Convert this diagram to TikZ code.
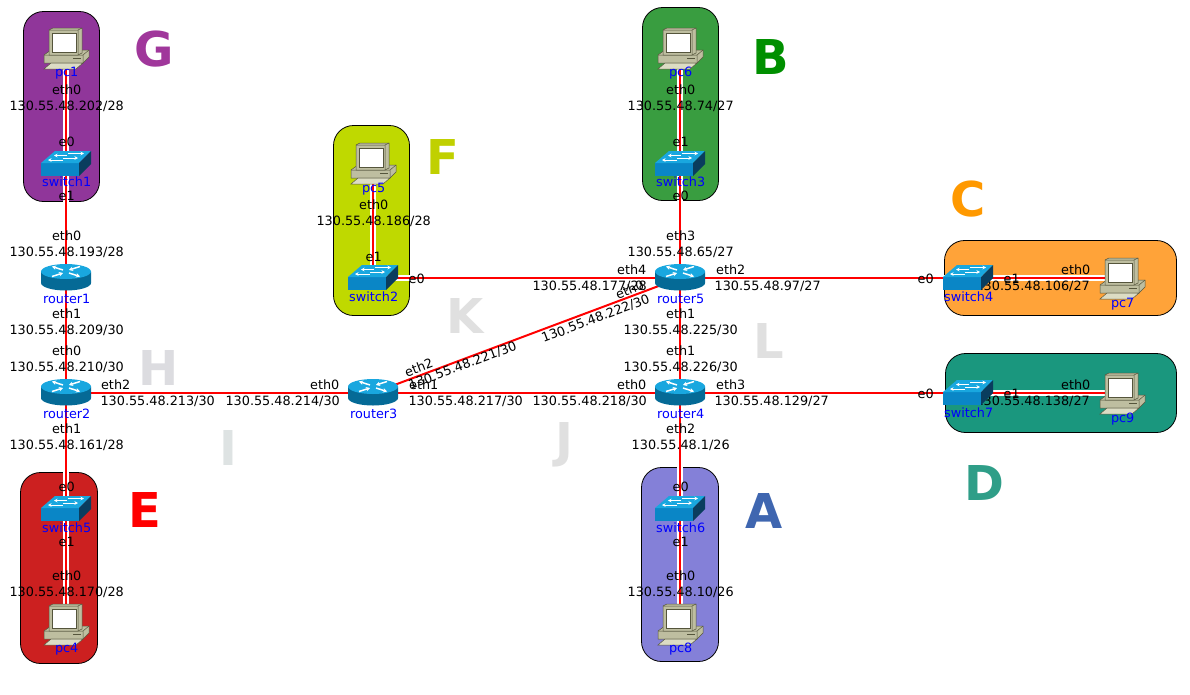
\documentclass[tikz,border=0pt]{standalone}
\usepackage{fontspec}
\usetikzlibrary{arrows.meta}
\setmainfont{DejaVu Sans}
\definecolor{cG}{HTML}{90369A}
\definecolor{cB}{HTML}{399D40}
\definecolor{cF}{HTML}{BFD900}
\definecolor{cC}{HTML}{FFA339}
\definecolor{cD}{HTML}{1A977E}
\definecolor{cE}{HTML}{CC2020}
\definecolor{cA}{HTML}{8480D8}
\definecolor{swtop}{HTML}{19A7DF}
\definecolor{swfront}{HTML}{0A86C6}
\definecolor{swside}{HTML}{0A3D5E}
\definecolor{rtside}{HTML}{056A96}
\definecolor{pcbody}{HTML}{BEBEA0}
\definecolor{pclight}{HTML}{DCDCC4}
\definecolor{pcdark}{HTML}{55553C}
\tikzset{
  x=1pt,y=-1pt,
  region/.style={draw=black,line width=0.8pt,rounded corners=20pt},
  dev/.style={inner sep=0pt,minimum size=1pt,outer sep=0pt},
  lbl/.style={inner sep=0pt,xshift=0.7pt,yshift=-0.7pt,font=\fontsize{12.8}{14}\selectfont,text=black},
  devname/.style={inner sep=0pt,xshift=0.7pt,yshift=-0.7pt,font=\fontsize{12.8}{14}\selectfont,text=blue},
  big/.style={inner sep=0pt,xshift=0.6pt,yshift=1pt,font=\fontsize{48}{50}\selectfont\bfseries},
  casing/.style={white,line width=6pt},
  wire/.style={red,line width=2pt},
  tipped/.style={white,line width=1.5pt,-{Stealth[length=4pt,width=4.5pt]}},
  tippedsw/.style={white,line width=1pt,-{Stealth[length=3.5pt,width=3.5pt]}},
  router/.pic={
    \fill[rtside] (-25,-6.5) -- (-25,5) arc[start angle=180,end angle=0,x radius=25,y radius=7.5] -- (25,-6.5) -- cycle;
    \fill[swtop] (0,-6.5) ellipse[x radius=25,y radius=7.5];
    \draw[tipped] (-3,-8) -- (-14,-11.5);
    \draw[tipped] (3,-5) -- (14,-1.5);
    \draw[tipped] (-14,-1.5) -- (-3,-5);
    \draw[tipped] (14,-11.5) -- (3,-8);
  },
  switchicon/.pic={
    \fill[swfront] (-25,-1) rectangle (13,12);
    \fill[swtop] (-25,-1) -- (-11,-13) -- (25,-13) -- (13,-1) -- cycle;
    \fill[swside] (13,-1) -- (25,-13) -- (25,0) -- (13,12) -- cycle;
    \draw[tippedsw] (1,-8.5) -- (-12,-8.5);
    \draw[tippedsw] (2,-10.5) -- (18,-10.5);
    \draw[tippedsw] (-3,-4) -- (-18,-4);
    \draw[tippedsw] (-3,-6) -- (12,-6);
  },
  pcicon/.pic={
    \fill[pcbody,draw=pcdark,line width=0.5pt] (-22,15) -- (-22,7) -- (-15,2) -- (23,2) -- (23,9) -- (17,15) -- cycle;
    \fill[pclight,draw=pcdark,line width=0.5pt] (-22,21) -- (-15,15) -- (17,15) -- (10,21) -- cycle;
    \draw[pcdark,line width=0.5pt] (-22,7) -- (17,7) -- (17,15) (17,7) -- (23,2);
    \fill[pcdark] (7,9.5) rectangle (15,11);
    \fill[pcbody,draw=pcdark,line width=0.5pt] (-17,-18) -- (-13,-20) -- (16,-20) -- (16,5) -- (12,7) -- (-17,7) -- cycle;
    \draw[pcdark,line width=0.5pt] (-17,-18) -- (12,-18) -- (12,7) (12,-18) -- (16,-20);
    \fill[white,draw=pcdark,line width=0.8pt] (-14,-15) rectangle (10,4);
  },
}
\newcommand{\ip}[3]{\node[lbl] at (#1,#2) {130.55.48.#3};}
\newcommand{\lb}[3]{\node[lbl] at (#1,#2) {#3};}
\begin{document}
\begin{tikzpicture}
\useasboundingbox (0,0) rectangle (1190,694);
% regions
\path[region,fill=cG] (23.5,11.5) rectangle (99.5,201.5);
\path[region,fill=cB] (642.5,7.5) rectangle (718.5,200.5);
\path[region,fill=cF] (333.5,125.5) rectangle (409.5,315.5);
\path[region,fill=cC] (944.5,240.5) rectangle (1176.5,315.5);
\path[region,fill=cD] (945.5,353.5) rectangle (1176.5,432.5);
\path[region,fill=cE] (20.5,472.5) rectangle (97.5,663.5);
\path[region,fill=cA] (641.5,467.5) rectangle (718.5,661.5);
% big letters
\node[big,text={rgb,255:red,160;green,55;blue,155}] at (154,50) {G};
\node[big,text={rgb,255:red,0;green,143;blue,0}] at (770,58) {B};
\node[big,text={rgb,255:red,192;green,208;blue,0}] at (442,158) {F};
\node[big,text={rgb,255:red,255;green,153;blue,0}] at (967,200) {C};
\node[big,text={rgb,255:red,224;green,224;blue,224}] at (464,317) {K};
\node[big,text={rgb,255:red,224;green,224;blue,224}] at (768,342) {L};
\node[big,text={rgb,255:red,220;green,220;blue,224}] at (158,369) {H};
\node[big,text={rgb,255:red,222;green,227;blue,227}] at (228,449) {I};
\node[big,text={rgb,255:red,224;green,224;blue,224}] at (564,446) {J};
\node[big,text={rgb,255:red,47;green,158;blue,136}] at (984,484) {D};
\node[big,text={rgb,255:red,63;green,102;blue,176}] at (763,512) {A};
\node[big,text=red] at (144,511) {E};
% device anchors
\node[dev] (pc1) at (66,48) {};
\node[dev] (sw1) at (66,164) {};
\node[dev] (r1) at (66,278) {};
\node[dev] (r2) at (66,393) {};
\node[dev] (sw5) at (66,509) {};
\node[dev] (pc4) at (66,624) {};
\node[dev] (pc5) at (373,163) {};
\node[dev] (sw2) at (373,278) {};
\node[dev] (r3) at (373,393) {};
\node[dev] (pc6) at (680,48) {};
\node[dev] (sw3) at (680,164) {};
\node[dev] (r5) at (680,278) {};
\node[dev] (r4) at (680,393) {};
\node[dev] (sw6) at (680,509) {};
\node[dev] (pc8) at (680,624) {};
\node[dev] (sw4) at (968,278) {};
\node[dev] (pc7) at (1122,278) {};
\node[dev] (sw7) at (968,393) {};
\node[dev] (pc9) at (1122,393) {};
% connectors
\foreach \a/\b in {pc1/sw1,sw1/r1,r2/sw5,sw5/pc4,pc5/sw2,sw2/r5,pc6/sw3,sw3/r5,r4/sw6,sw6/pc8,r5/sw4,sw4/pc7,r4/sw7,sw7/pc9}
  \draw[casing] (\a.center) -- (\b.center);
\foreach \a/\b in {pc1/sw1,sw1/r1,r1/r2,r2/r3,r2/sw5,sw5/pc4,pc5/sw2,sw2/r5,pc6/sw3,sw3/r5,r5/r4,r3/r4,r3/r5,r4/sw6,sw6/pc8,r5/sw4,sw4/pc7,r4/sw7,sw7/pc9}
  \draw[wire] (\a.center) -- (\b.center);
% interface labels (under the icons)
\lb{66}{89}{eth0}\ip{66}{106}{202/28}\lb{66}{141}{e0}\lb{66}{195}{e1}
\lb{66}{235}{eth0}\ip{66}{252}{193/28}\lb{66}{313}{eth1}\ip{66}{330}{209/30}
\lb{66}{350}{eth0}\ip{66}{367}{210/30}\lb{66}{428}{eth1}\ip{66}{445}{161/28}
\lb{66}{486}{e0}\lb{66}{541}{e1}\lb{66}{575}{eth0}\ip{66}{592}{170/28}
\lb{115}{384}{eth2}\ip{157}{401}{213/30}\lb{324}{384}{eth0}\ip{282}{401}{214/30}
\lb{423}{384}{eth1}\ip{465}{401}{217/30}\lb{631}{384}{eth0}\ip{589}{401}{218/30}
\lb{373}{204}{eth0}\ip{373}{221}{186/28}\lb{373}{256}{e1}\lb{416}{278}{e0}
\lb{631}{269}{eth4}\ip{589}{286}{177/28}
\lb{680}{89}{eth0}\ip{680}{106}{74/27}\lb{680}{141}{e1}\lb{680}{195}{e0}
\lb{680}{235}{eth3}\ip{680}{252}{65/27}\lb{680}{313}{eth1}\ip{680}{330}{225/30}
\lb{680}{350}{eth1}\ip{680}{367}{226/30}\lb{680}{428}{eth2}\ip{680}{445}{1/26}
\lb{680}{486}{e0}\lb{680}{541}{e1}\lb{680}{575}{eth0}\ip{680}{592}{10/26}
\lb{730}{269}{eth2}\ip{767}{286}{97/27}\lb{925}{278}{e0}\lb{1011}{278}{e1}
\lb{1075}{269}{eth0}\ip{1032}{286}{106/27}
\lb{730}{384}{eth3}\ip{771}{401}{129/27}\lb{925}{393}{e0}\lb{1011}{393}{e1}
\lb{1075}{384}{eth0}\ip{1032}{401}{138/27}
% diagonal labels
\node[lbl,rotate=20.7] at (418,367) {eth2};
\node[lbl,rotate=20.7] at (462,365) {130.55.48.221/30};
\node[lbl,rotate=20.7] at (629,289) {eth0};
\node[lbl,rotate=20.7] at (595,318) {130.55.48.222/30};
% icons
\foreach \n in {r1,r2,r3,r4,r5} \pic at (\n) {router};
\foreach \n in {sw1,sw2,sw3,sw4,sw5,sw6,sw7} \pic at (\n) {switchicon};
\foreach \n in {pc1,pc4,pc5,pc6,pc7,pc8,pc9} \pic at (\n) {pcicon};
% device names
\foreach \t/\x/\y in {pc1/66/72,switch1/66/181,router1/66/298,router2/66/413,switch5/66/527,pc4/66/648,pc5/373/188,switch2/373/296,router3/373/413,pc6/680/72,switch3/680/181,router5/680/298,router4/680/413,switch6/680/527,pc8/680/648,switch4/968/296,pc7/1122/303,switch7/968/412,pc9/1122/418}
  \node[devname] at (\x,\y) {\t};
\end{tikzpicture}
\end{document}
